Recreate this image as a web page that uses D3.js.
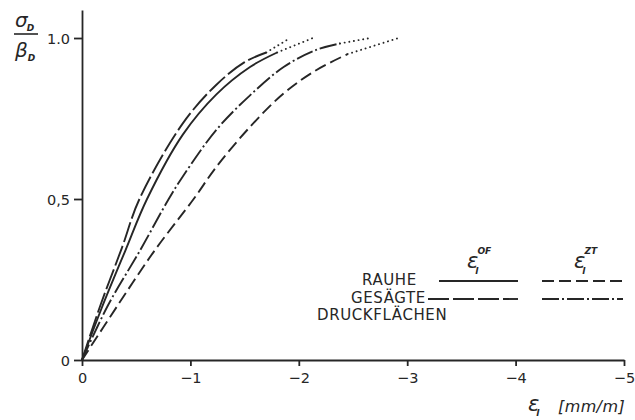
<!DOCTYPE html>
<html><head><meta charset="utf-8">
<script src="https://cdn.jsdelivr.net/npm/d3@7"></script>
<style>body{margin:0;background:#fff} svg{display:block}</style>
</head><body><svg id="c" width="635" height="420"></svg>
<script>
// ---- data ----
const xTicks = [0, -1, -2, -3, -4, -5];
const xTickLabels = ["0", "−1", "−2", "−3", "−4", "−5"];
const yTicks = [0, 0.5, 1.0];
const yTickLabels = ["0", "0,5", "1.0"];

const seriesKeys = ["rauheOF", "gesaegteOF", "rauheZT", "gesaegteZT"];
const strainRauheOF   = [0, -0.18, -0.40, -0.60, -0.93, -1.24, -1.55, -1.80];
const stressRauheOF   = [0, 0.16, 0.34, 0.50, 0.70, 0.825, 0.91, 0.955];
const strainGesaegteOF = [0, -0.17, -0.37, -0.53, -0.93, -1.24, -1.50, -1.70];
const stressGesaegteOF = [0, 0.17, 0.35, 0.50, 0.735, 0.855, 0.925, 0.955];
const strainRauheZT   = [0, -0.33, -0.67, -1.03, -1.24, -1.55, -1.86, -2.16, -2.45];
const stressRauheZT   = [0, 0.17, 0.34, 0.50, 0.60, 0.724, 0.828, 0.90, 0.95];
const strainGesaegteZT = [0, -0.24, -0.535, -0.80, -0.93, -1.24, -1.55, -1.86, -2.16, -2.38];
const stressGesaegteZT = [0, 0.17, 0.34, 0.50, 0.57, 0.715, 0.822, 0.91, 0.963, 0.983];
// dotted extrapolation end points (same order as seriesKeys)
const dottedEndStrain = [-2.13, -1.92, -2.92, -2.66];
const dottedEndStress = [1.0, 1.0, 1.0, 1.0];

const legendRows = ["RAUHE", "GESÄGTE", "DRUCKFLÄCHEN"];
const legendCols = ["OF", "ZT"];

// ---- drawing ----
const ink = "#262626";
const svg = d3.select("#c");
const x = d3.scaleLinear().domain([0, -5]).range([82, 624]);
const y = d3.scaleLinear().domain([0, 1.087]).range([360, 10]);

const styles = {
  rauheOF:   {dash: null},
  gesaegteOF:{dash: "21,4"},
  rauheZT:   {dash: "12,5"},
  gesaegteZT:{dash: "17,3,2,3"}
};
const seriesData = {
  rauheOF: [strainRauheOF, stressRauheOF],
  gesaegteOF: [strainGesaegteOF, stressGesaegteOF],
  rauheZT: [strainRauheZT, stressRauheZT],
  gesaegteZT: [strainGesaegteZT, stressGesaegteZT]
};

// axes
const xAxis = d3.axisBottom(x).tickValues(xTicks)
  .tickFormat((d, i) => xTickLabels[i]).tickSize(6).tickSizeOuter(0).tickPadding(7);
const gx = svg.append("g").attr("transform", "translate(0,360)").call(xAxis);
const yAxis = d3.axisLeft(y).tickValues(yTicks)
  .tickFormat((d, i) => yTickLabels[i]).tickSize(8).tickSizeOuter(0).tickPadding(4);
const gy = svg.append("g").attr("transform", "translate(82,0)").call(yAxis);
[gx, gy].forEach(g => {
  g.selectAll("path,line").attr("stroke", ink).attr("stroke-width", 1.8);
  g.selectAll("text").attr("fill", ink).style("font-family", "DejaVu Sans")
    .style("font-size", "14.5px");
});
gy.selectAll(".tick text").attr("dy", "0.36em");

const line = d3.line().x(d => x(d[0])).y(d => y(d[1])).curve(d3.curveCatmullRom.alpha(0.5));

seriesKeys.forEach((k, i) => {
  const [sx, sy] = seriesData[k];
  const pts = sx.map((v, j) => [v, sy[j]]);
  svg.append("path").attr("d", line(pts))
    .attr("fill", "none").attr("stroke", ink).attr("stroke-width", 1.9)
    .attr("stroke-dasharray", styles[k].dash);
  const last = pts[pts.length - 1];
  svg.append("path").attr("d", d3.line().x(d => x(d[0])).y(d => y(d[1]))([last, [dottedEndStrain[i], dottedEndStress[i]]]))
    .attr("fill", "none").attr("stroke", ink).attr("stroke-width", 1.9)
    .attr("stroke-linecap", "round").attr("stroke-dasharray", "0.1,4.6");
});

// legend
const lf = "DejaVu Sans";
const legX = [362, 351, 317];
const legY = [285, 303, 320];
legendRows.forEach((t, i) => {
  svg.append("text").attr("x", legX[i]).attr("y", legY[i]).text(t)
    .attr("fill", ink).style("font-family", lf).style("font-size", "15px")
    .style("letter-spacing", "0.6px");
});
const legLines = [
  {k: "rauheOF", x1: 439, x2: 518, yy: 281},
  {k: "rauheZT", x1: 542, x2: 623, yy: 281},
  {k: "gesaegteOF", x1: 428, x2: 518, yy: 299},
  {k: "gesaegteZT", x1: 542, x2: 623, yy: 299}
];
legLines.forEach(l => {
  svg.append("line").attr("x1", l.x1).attr("x2", l.x2).attr("y1", l.yy).attr("y2", l.yy)
    .attr("stroke", ink).attr("stroke-width", 1.9).attr("stroke-dasharray", styles[l.k].dash);
});
const headX = [467, 574];
legendCols.forEach((c, i) => {
  const t = svg.append("text").attr("x", headX[i]).attr("y", 268)
    .attr("fill", ink).style("font-family", lf).style("font-style", "italic");
  t.append("tspan").text("ε").style("font-size", "21px");
  t.append("tspan").text("l").attr("dx", -3).attr("dy", 6).style("font-size", "9px").style("font-weight", "bold");
  t.append("tspan").text(c).attr("dx", -1).attr("dy", -20).style("font-size", "9px").style("font-weight", "bold");
});

// axis titles
const xt = svg.append("text").attr("x", 528).attr("y", 411).attr("fill", ink)
  .style("font-family", lf).style("font-style", "italic");
xt.append("tspan").text("ε").style("font-size", "21px");
xt.append("tspan").text("l").attr("dx", -3).attr("dy", 5).style("font-size", "9px").style("font-weight", "bold");
svg.append("text").attr("x", 558).attr("y", 412).attr("fill", ink)
  .style("font-family", lf).style("font-style", "italic").style("font-size", "16px")
  .style("letter-spacing", "0.4px").text("[mm/m]");

const ytl = svg.append("g").attr("fill", ink).style("font-family", lf).style("font-style", "italic");
const s1 = ytl.append("text").attr("x", 15).attr("y", 27);
s1.append("tspan").text("σ").style("font-size", "20px");
s1.append("tspan").text("D").attr("dx", -1).attr("dy", 4).style("font-size", "9px").style("font-weight", "bold");
svg.append("line").attr("x1", 14).attr("x2", 38).attr("y1", 34).attr("y2", 34)
  .attr("stroke", ink).attr("stroke-width", 1.6);
const s2 = ytl.append("text").attr("x", 15).attr("y", 57);
s2.append("tspan").text("β").style("font-size", "20px");
s2.append("tspan").text("D").attr("dx", 0).attr("dy", 4).style("font-size", "9px").style("font-weight", "bold");
</script></body></html>
